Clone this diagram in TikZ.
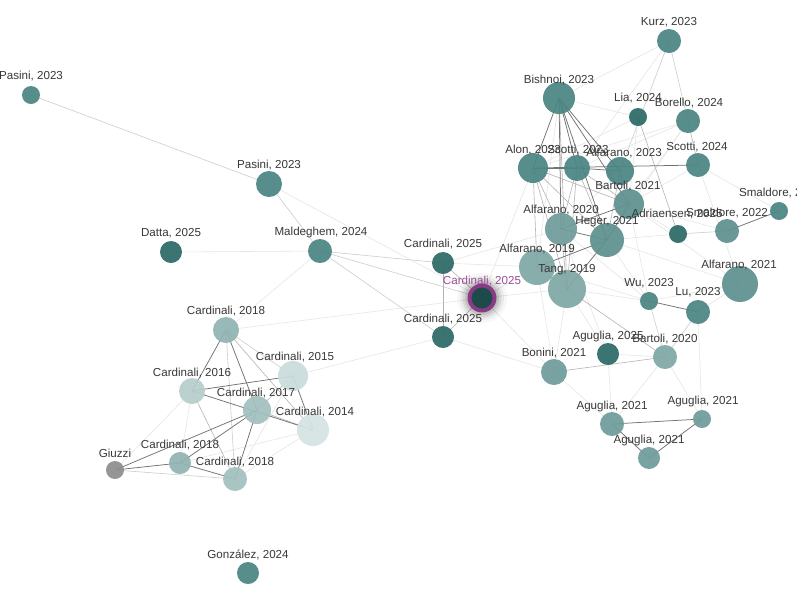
\documentclass[tikz,border=0pt]{standalone}
\usepackage{fontspec}
\setmainfont{Liberation Sans}
\definecolor{tmid}{HTML}{4B8583}
\definecolor{tdark}{HTML}{2E6A68}
\definecolor{tdeep}{HTML}{1D4B4A}
\definecolor{tl1}{HTML}{5E918F}
\definecolor{tl2}{HTML}{6F9D9B}
\definecolor{tl3}{HTML}{80A8A6}
\definecolor{tl4}{HTML}{91B4B2}
\definecolor{tl5}{HTML}{A3C1BF}
\definecolor{tl6}{HTML}{B6CECD}
\definecolor{tl7}{HTML}{C9DCDB}
\definecolor{tl8}{HTML}{D5E4E3}
\definecolor{giuc}{HTML}{8E8E8E}
\definecolor{halo}{HTML}{8B3A86}
\definecolor{halotxt}{HTML}{9A4F96}
\definecolor{txt}{HTML}{383838}
\definecolor{edkc}{HTML}{727272}
\definecolor{edmc}{HTML}{B4B4B4}
\definecolor{edpc}{HTML}{CDCDCD}
\definecolor{edlc}{HTML}{E6E6E6}
\tikzset{
  nd/.style={circle, inner sep=0pt, minimum size=#1, fill opacity=0.93, draw=none},
  lbl/.style={font=\fontsize{11.6}{13}\selectfont, text=txt, inner sep=0pt},
  edk/.style={draw=edkc, line width=0.75pt},
  edm/.style={draw=edmc, line width=0.6pt},
  edp/.style={draw=edpc, line width=0.6pt},
  edl/.style={draw=edlc, line width=0.6pt}
}
\begin{document}
\begin{tikzpicture}[x=1pt,y=-1pt]
\useasboundingbox (0,0) rectangle (797,598);
\fill[white] (0,0) rectangle (797,598);
\clip (0,0) rectangle (797,598);
% coordinates
\coordinate (pasA) at (31,95);
\coordinate (pasB) at (269,184);
\coordinate (datta) at (171,252);
\coordinate (mald) at (320,251);
\coordinate (cA) at (443,263);
\coordinate (cM) at (482,298);
\coordinate (cB) at (443,337);
\coordinate (kurz) at (669,41);
\coordinate (bish) at (559,98);
\coordinate (lia) at (638,117);
\coordinate (bore) at (688,121);
\coordinate (alon) at (533,168);
\coordinate (sc23) at (577,168);
\coordinate (alf23) at (620,171);
\coordinate (sc24) at (698,165);
\coordinate (bar21) at (629,204);
\coordinate (smA) at (779,211);
\coordinate (sm22) at (727,231);
\coordinate (adr) at (678,234);
\coordinate (alf20) at (561,229);
\coordinate (heg) at (607,240);
\coordinate (alf19) at (537,267);
\coordinate (tang) at (567,289);
\coordinate (alf21) at (740,284);
\coordinate (wu) at (649,301);
\coordinate (lu) at (698,312);
\coordinate (ag25) at (608,354);
\coordinate (bar20) at (665,357);
\coordinate (bon) at (554,372);
\coordinate (agA) at (612,424);
\coordinate (agB) at (702,419);
\coordinate (agC) at (649,458);
\coordinate (c18a) at (226,330);
\coordinate (c15) at (293,376);
\coordinate (c16) at (192,391);
\coordinate (c17) at (257,410);
\coordinate (c14) at (313,430);
\coordinate (giu) at (115,470);
\coordinate (c18b) at (180,463);
\coordinate (c18c) at (235,479);
\coordinate (gonz) at (248,573);
% faint edges
\foreach \a/\b in {pasB/cM, cA/alf19, cM/alf19, cM/tang, cM/alon, cM/bon, cM/c18a, cB/c15, cB/bon, cA/alf20,
  c14/c18b, c14/c18c, c16/c18b, c15/c18c, tang/wu, tang/ag25, tang/bon, alf19/bon, alf20/ag25, heg/alf21,
  heg/adr, bar21/adr, bar21/sm22, bar21/alf21, sc24/smA, sc24/alf21, ag25/bar20, bon/agA, bar20/agA,
  bar20/agB, lu/agB, alf21/lu, kurz/bish, kurz/sc23, lia/alon, lia/bish, bore/alon, bore/sc23, bore/bar21,
  bish/alf19, alf23/alf20, lia/bar21, heg/wu, bar21/wu, alf20/wu, datta/mald, mald/c18a, alf19/wu, ag25/agA,
  sc24/bar21, bore/heg, alf21/wu, c16/giu}
  \draw[edl] (\a) -- (\b);
% pale edges
\foreach \a/\b in {pasA/pasB, pasB/mald, mald/cA, mald/cM, mald/cB, kurz/bore, kurz/alf23, adr/sm22,
  wu/bar20, lu/bar20, c18a/c15, c18a/c18c, giu/c18c}
  \draw[edp] (\a) -- (\b);
% medium edges
\foreach \a/\b in {cA/cB, cA/cM, cB/cM, bore/sc24, lia/adr, bon/bar20, tang/bar20,
  alon/alf19, alon/alf20, alon/tang, alon/heg, alon/bar21, sc23/alf20, sc23/heg, sc23/tang, sc23/bar21,
  alf23/bar21, alf23/heg, bish/tang, alf20/tang, alf19/tang,
  c18a/c14, c16/c18c, c15/c17, c17/c14}
  \draw[edm] (\a) -- (\b);
% dark edges
\foreach \a/\b in {alon/sc23, sc23/alf23, alon/sc24, bish/alon, bish/sc23, bish/alf23, bish/alf20, bish/heg, bish/bar21,
  heg/alf20, heg/bar21, heg/tang, alf20/bar21, alf19/heg, wu/lu, smA/sm22, agA/agB, agB/agC, agA/agC,
  c18a/c16, c18a/c17, c16/c15, c16/c14, c15/c14, c17/c18b, c17/c18c, c17/giu, giu/c18b, c18b/c18c}
  \draw[edk] (\a) -- (\b);
% halo for main node
\foreach \r/\o in {25/0.03, 22/0.05, 19.5/0.08, 17/0.10}
  \fill[black, opacity=\o] (cM) circle (\r);
\fill[halo] (cM) circle (14.5);
% nodes
\node[nd=18pt, fill=tmid] (n-pasA) at (pasA) {};
\node[nd=26pt, fill=tmid] (n-pasB) at (pasB) {};
\node[nd=22pt, fill=tdark] (n-datta) at (datta) {};
\node[nd=24pt, fill=tmid] (n-mald) at (mald) {};
\node[nd=22pt, fill=tdark] (n-cA) at (cA) {};
\node[nd=21pt, fill=tdeep, fill opacity=1] (n-cM) at (cM) {};
\node[nd=22pt, fill=tdark] (n-cB) at (cB) {};
\node[nd=24pt, fill=tmid] (n-kurz) at (kurz) {};
\node[nd=32pt, fill=tmid] (n-bish) at (bish) {};
\node[nd=18pt, fill=tdark] (n-lia) at (lia) {};
\node[nd=24pt, fill=tmid] (n-bore) at (bore) {};
\node[nd=30pt, fill=tmid] (n-alon) at (alon) {};
\node[nd=26pt, fill=tmid] (n-sc23) at (sc23) {};
\node[nd=28pt, fill=tmid] (n-alf23) at (alf23) {};
\node[nd=24pt, fill=tmid] (n-sc24) at (sc24) {};
\node[nd=30pt, fill=tl1] (n-bar21) at (bar21) {};
\node[nd=18pt, fill=tmid] (n-smA) at (smA) {};
\node[nd=24pt, fill=tl1] (n-sm22) at (sm22) {};
\node[nd=18pt, fill=tdark] (n-adr) at (adr) {};
\node[nd=32pt, fill=tl2] (n-alf20) at (alf20) {};
\node[nd=34pt, fill=tl1] (n-heg) at (heg) {};
\node[nd=36pt, fill=tl3] (n-alf19) at (alf19) {};
\node[nd=38pt, fill=tl3] (n-tang) at (tang) {};
\node[nd=36pt, fill=tl1] (n-alf21) at (alf21) {};
\node[nd=18pt, fill=tmid] (n-wu) at (wu) {};
\node[nd=24pt, fill=tmid] (n-lu) at (lu) {};
\node[nd=22pt, fill=tdark] (n-ag25) at (ag25) {};
\node[nd=24pt, fill=tl3] (n-bar20) at (bar20) {};
\node[nd=26pt, fill=tl2] (n-bon) at (bon) {};
\node[nd=24pt, fill=tl2] (n-agA) at (agA) {};
\node[nd=18pt, fill=tl2] (n-agB) at (agB) {};
\node[nd=22pt, fill=tl2] (n-agC) at (agC) {};
\node[nd=26pt, fill=tl4] (n-c18a) at (c18a) {};
\node[nd=30pt, fill=tl7] (n-c15) at (c15) {};
\node[nd=26pt, fill=tl6] (n-c16) at (c16) {};
\node[nd=28pt, fill=tl5] (n-c17) at (c17) {};
\node[nd=32pt, fill=tl8] (n-c14) at (c14) {};
\node[nd=18pt, fill=giuc] (n-giu) at (giu) {};
\node[nd=22pt, fill=tl4] (n-c18b) at (c18b) {};
\node[nd=24pt, fill=tl5] (n-c18c) at (c18c) {};
\node[nd=22pt, fill=tmid] (n-gonz) at (gonz) {};
% labels
\node[lbl] (l-pasA) at (31,76) {Pasini, 2023};
\node[lbl] (l-pasB) at (269,165) {Pasini, 2023};
\node[lbl] (l-datta) at (171,233) {Datta, 2025};
\node[lbl] (l-mald) at (321,232) {Maldeghem, 2024};
\node[lbl] (l-cA) at (443,244) {Cardinali, 2025};
\node[lbl] (l-cB) at (443,319) {Cardinali, 2025};
\node[lbl] (l-kurz) at (669,22) {Kurz, 2023};
\node[lbl] (l-bish) at (559,80) {Bishnoi, 2023};
\node[lbl] (l-lia) at (638,98) {Lia, 2024};
\node[lbl] (l-bore) at (689,103) {Borello, 2024};
\node[lbl] (l-alf23) at (624,153) {Alfarano, 2023};
\node[lbl] (l-alon) at (533,150) {Alon, 2023};
\node[lbl] (l-sc23) at (578,150) {Scotti, 2023};
\node[lbl] (l-sc24) at (697,147) {Scotti, 2024};
\node[lbl] (l-bar21) at (628,186) {Bartoli, 2021};
\node[lbl] (l-smA) at (780,193) {Smaldore, 2022};
\node[lbl] (l-sm22) at (727,213) {Smaldore, 2022};
\node[lbl] (l-adr) at (677,214) {Adriaensen, 2025};
\node[lbl] (l-alf20) at (561,210) {Alfarano, 2020};
\node[lbl] (l-heg) at (607,222) {Heger, 2021};
\node[lbl] (l-alf19) at (537,249) {Alfarano, 2019};
\node[lbl] (l-tang) at (567,270) {Tang, 2019};
\node[lbl] (l-alf21) at (739,265) {Alfarano, 2021};
\node[lbl] (l-wu) at (649,283) {Wu, 2023};
\node[lbl] (l-lu) at (698,292) {Lu, 2023};
\node[lbl] (l-ag25) at (608,336) {Aguglia, 2025};
\node[lbl] (l-bar20) at (665,339) {Bartoli, 2020};
\node[lbl] (l-bon) at (554,353) {Bonini, 2021};
\node[lbl] (l-agA) at (612,406) {Aguglia, 2021};
\node[lbl] (l-agB) at (703,401) {Aguglia, 2021};
\node[lbl] (l-agC) at (649,440) {Aguglia, 2021};
\node[lbl] (l-c18a) at (226,311) {Cardinali, 2018};
\node[lbl] (l-c15) at (295,357) {Cardinali, 2015};
\node[lbl] (l-c16) at (192,373) {Cardinali, 2016};
\node[lbl] (l-c17) at (256,393) {Cardinali, 2017};
\node[lbl] (l-c14) at (315,412) {Cardinali, 2014};
\node[lbl] (l-giu) at (115,453) {Giuzzi};
\node[lbl] (l-c18b) at (180,445) {Cardinali, 2018};
\node[lbl] (l-c18c) at (235,462) {Cardinali, 2018};
\node[lbl] (l-gonz) at (248,555) {González, 2024};
\node[lbl, text=halotxt] (l-cM) at (482,281) {Cardinali, 2025};
\end{tikzpicture}
\end{document}
